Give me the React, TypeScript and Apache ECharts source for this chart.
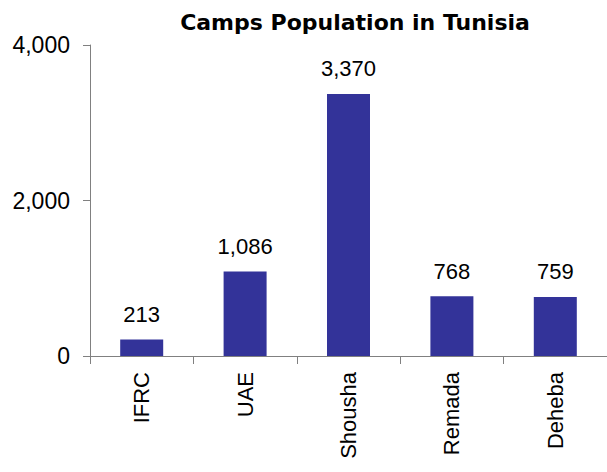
import React, { useEffect, useRef } from "react";
import * as echarts from "echarts";

const categories = ["IFRC", "UAE", "Shousha", "Remada", "Deheba"];
const population = [213, 1086, 3370, 768, 759];
const yTicks = [0, 2000, 4000];

const fmt = (v: number) => v.toLocaleString("en-US");

export default function App() {
  const ref = useRef<HTMLDivElement>(null);
  useEffect(() => {
    if (!ref.current) return;
    const chart = echarts.init(ref.current, null, { renderer: "svg" });
    chart.setOption({
      animation: false,
      backgroundColor: "#ffffff",
      title: {
        text: "Camps Population in Tunisia",
        left: 350,
        top: 6,
        textAlign: "center",
        textStyle: {
          fontFamily: "DejaVu Sans",
          fontWeight: "bold",
          fontSize: 22,
          color: "#000000",
        },
      },
      grid: { left: 90, top: 45, width: 520, height: 311, containLabel: false },
      xAxis: {
        type: "category",
        data: categories,
        boundaryGap: true,
        axisLine: { lineStyle: { color: "#808080", width: 1 } },
        axisTick: { show: true, length: 8, alignWithLabel: false, lineStyle: { color: "#808080" } },
        axisLabel: {
          rotate: 90,
          margin: 16,
          fontFamily: "Liberation Sans",
          fontSize: 22,
          color: "#000000",
          interval: 0,
        },
      },
      yAxis: {
        type: "value",
        min: yTicks[0],
        max: yTicks[yTicks.length - 1],
        interval: yTicks[1] - yTicks[0],
        splitLine: { show: false },
        axisLine: { show: true, lineStyle: { color: "#808080", width: 1 } },
        axisTick: { show: true, length: 7, lineStyle: { color: "#808080" } },
        axisLabel: {
          margin: 20,
          fontFamily: "Liberation Sans",
          fontSize: 23,
          color: "#000000",
          formatter: (v: number) => fmt(v),
        },
      },
      series: [
        {
          type: "bar",
          data: population,
          barWidth: 43,
          itemStyle: { color: "#333399" },
          label: {
            show: true,
            position: "top",
            distance: 14,
            fontFamily: "Liberation Sans",
            fontSize: 22,
            color: "#000000",
            formatter: (p: any) => fmt(p.value),
          },
        },
      ],
    });
    return () => chart.dispose();
  }, []);
  return (
    <div
      ref={ref}
      style={{ position: "fixed", left: 0, top: 0, width: 607, height: 472 }}
    />
  );
}
